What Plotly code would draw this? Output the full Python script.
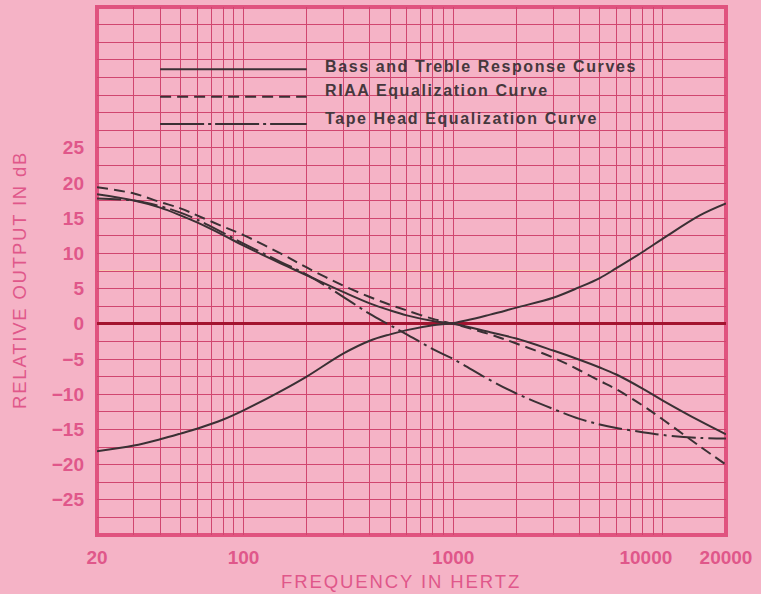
import math
import plotly.graph_objects as go

# ---------------- data ----------------
freq = [20, 30, 40, 50, 60, 80, 100, 150, 200, 300, 400, 500, 600, 800,
        1000, 1500, 2000, 3000, 4000, 5000, 6000, 8000, 10000, 15000, 20000]

bass_boost_treble_cut = [18.4, 17.5, 16.5, 15.4, 14.4, 12.6, 11.1, 8.6, 6.9, 4.5, 2.9, 1.9, 1.2, 0.4,
                         0.0, -1.2, -2.1, -3.8, -5.1, -6.2, -7.2, -9.2, -10.9, -13.8, -15.7]
bass_cut_treble_boost = [-18.1, -17.3, -16.4, -15.6, -14.9, -13.6, -12.3, -9.6, -7.5, -4.2, -2.4, -1.5, -0.9, -0.2,
                         0.1, 1.3, 2.3, 3.7, 5.2, 6.5, 7.9, 10.2, 12.1, 15.4, 17.1]
riaa = [19.4, 18.5, 17.3, 16.4, 15.4, 13.8, 12.6, 10.0, 8.0, 5.4, 3.8, 2.7, 1.9, 0.7,
        0.0, -1.5, -2.8, -4.8, -6.6, -8.1, -9.3, -11.6, -13.6, -17.4, -20.0]
tape_head = [17.8, 17.5, 16.7, 15.8, 14.8, 12.9, 11.4, 8.8, 7.0, 3.8, 1.4, -0.2, -1.5, -3.6,
             -5.0, -8.0, -9.9, -12.1, -13.5, -14.3, -14.8, -15.4, -15.8, -16.2, -16.3]

legend_labels = ["Bass and Treble Response Curves",
                 "RIAA Equalization Curve",
                 "Tape Head Equalization Curve"]

x_grid = [20, 30, 40, 50, 60, 70, 80, 90,
          100, 200, 300, 400, 500, 600, 700, 800, 900,
          1000, 2000, 3000, 4000, 5000, 6000, 7000, 8000, 9000,
          10000, 20000]
x_labels = {20: "20", 100: "100", 1000: "1000", 20000: "20000"}
x_labels_shifted = {10000: "10000"}
y_grid = [-30 + 2.5 * i for i in range(31)]
y_labels = {v: (("\u2212" + str(abs(v))) if v < 0 else str(v))
            for v in [-25, -20, -15, -10, -5, 0, 5, 10, 15, 20, 25]}

# ---------------- styles ----------------
BG = "#f5b3c6"
GRID = "#d0466f"
BORDER = "#e0537f"
ZERO = "#a3142f"
TICK = "#e0578a"
INK = "#3a3034"
LEG_TXT = "#45383d"
FONT = "Liberation Sans"

legend_x = [40, 200]
legend_line_y = [36.15, 32.26, 28.38]
legend_text_y = [36.6, 33.1, 29.2]
legend_text_x = 239

x_range = [math.log10(20) - 1e-6, math.log10(20000) + 1e-6]
tick_font = dict(family=FONT, size=19, color=TICK, weight="bold")

fig = go.Figure()

curve_line = dict(color=INK, width=2)
fig.add_trace(go.Scatter(x=freq, y=bass_boost_treble_cut, mode="lines", line_shape="spline",
                         line=dict(**curve_line)))
fig.add_trace(go.Scatter(x=freq, y=bass_cut_treble_boost, mode="lines", line_shape="spline",
                         line=dict(**curve_line)))
fig.add_trace(go.Scatter(x=freq, y=riaa, mode="lines", line_shape="spline",
                         line=dict(**curve_line, dash="11px,6px")))
fig.add_trace(go.Scatter(x=freq, y=tape_head, mode="lines", line_shape="spline",
                         line=dict(**curve_line, dash="24px,5px,3px,5px")))

# legend samples
legend_dashes = ["solid", "11px,6px", "44px,4px,3px,4px"]
for yy, dash in zip(legend_line_y, legend_dashes):
    fig.add_trace(go.Scatter(x=legend_x, y=[yy, yy], mode="lines",
                             line=dict(color=INK, width=2, dash=dash)))

# empty trace so that the overlay axis (carrying the shifted 10000 label) exists
fig.add_trace(go.Scatter(x=[20, 20000], y=[None, None], mode="lines", xaxis="x2",
                         hoverinfo="skip"))

annotations = []
for txt, yy in zip(legend_labels, legend_text_y):
    annotations.append(dict(x=math.log10(legend_text_x), y=yy, xref="x", yref="y",
                            text='<span style="letter-spacing:1.6px">' + txt + '</span>',
                            showarrow=False, xanchor="left", yanchor="middle",
                            font=dict(family=FONT, size=16, color=LEG_TXT, weight="bold")))

annotations.append(dict(x=0.484, y=-0.1125, xref="paper", yref="paper",
                        text='<span style="letter-spacing:1.9px">FREQUENCY IN HERTZ</span>',
                        showarrow=False, xanchor="center", yanchor="bottom",
                        font=dict(family=FONT, size=18.5, color=TICK)))
annotations.append(dict(x=-0.1224, y=0.483, xref="paper", yref="paper",
                        text='<span style="letter-spacing:1.8px">RELATIVE OUTPUT IN dB</span>',
                        showarrow=False, xanchor="center", yanchor="middle", textangle=-90,
                        font=dict(family=FONT, size=18.5, color=TICK)))

shapes = [
    dict(type="line", xref="paper", yref="y", x0=0, x1=1, y0=7.5, y1=7.5,
         line=dict(color="rgba(250,226,150,0.9)", width=1), layer="between"),
    dict(type="rect", xref="paper", yref="paper", x0=0, x1=1, y0=0, y1=1,
         line=dict(color=BORDER, width=4), layer="between"),
]

fig.update_layout(
    width=761, height=594,
    margin=dict(l=97, r=35, t=7, b=59, autoexpand=False),
    paper_bgcolor=BG, plot_bgcolor=BG,
    showlegend=False,
    annotations=annotations,
    shapes=shapes,
    xaxis=dict(type="log", range=x_range,
               tickvals=x_grid, ticktext=[x_labels.get(v, "") for v in x_grid],
               tickangle=0,
               showgrid=True, gridcolor=GRID, gridwidth=1, ticks="",
               showline=False, zeroline=False, ticklabelstandoff=9,
               tickfont=tick_font),
    xaxis2=dict(type="log", range=x_range, overlaying="x", side="bottom", anchor="y",
                tickvals=list(x_labels_shifted.keys()),
                ticktext=list(x_labels_shifted.values()),
                tickangle=0, ticklabelshift=-17,
                showgrid=False, ticks="", showline=False, zeroline=False,
                ticklabelstandoff=9, tickfont=tick_font),
    yaxis=dict(range=[-30, 45], tickvals=y_grid,
               ticktext=[y_labels.get(v, "") for v in y_grid],
               showgrid=True, gridcolor=GRID, gridwidth=1, ticks="",
               showline=False, zeroline=True, zerolinecolor=ZERO, zerolinewidth=2.5,
               ticklabelstandoff=12,
               tickfont=tick_font),
)

fig.write_html("out.html",
               config={"displayModeBar": False},
               post_script="document.body.style.margin='0';document.body.style.background='" + BG + "';")
